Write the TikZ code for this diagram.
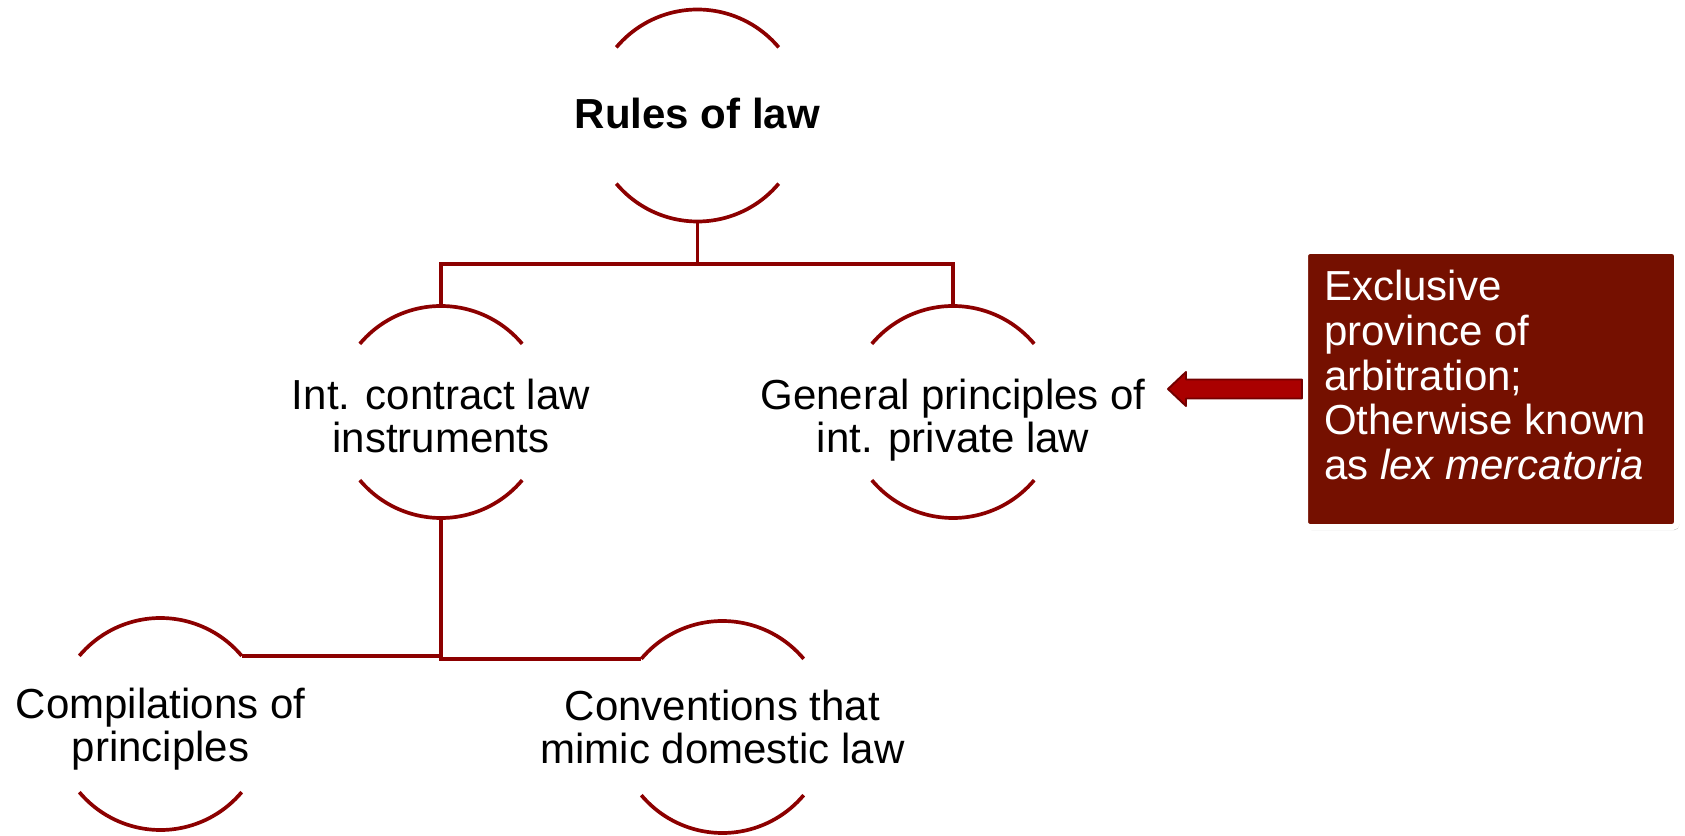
\documentclass[tikz,border=0pt]{standalone}
\usepackage{fontspec}
\setmainfont{Liberation Sans}
\usetikzlibrary{calc,shadows}

\definecolor{lawred}{RGB}{140,0,0}
\definecolor{notered}{RGB}{117,16,0}
\definecolor{arrowred}{RGB}{170,0,0}
\definecolor{arrowedge}{RGB}{115,0,0}

% text of a circle, kept out of the circle's size (first baseline at the centre, raised by #1)
\newcommand{\lbl}[2][0cm]{\makebox[0pt]{\smash{\raisebox{#1}{\begin{tabular}[t]{@{}c@{}}#2\end{tabular}}}}}

\begin{document}
\begin{tikzpicture}[
    every node/.style={font=\fontsize{23.9}{24.5}\selectfont},
    circ/.style={circle, minimum size=4.24cm, inner sep=0pt, outer sep=0pt},
    ln/.style={draw=lawred, line width=2.1pt},
    note/.style={rectangle, fill=notered, draw=white, line width=0.12cm,
        rounded corners=2.5pt, inner xsep=0.38cm, inner ysep=0pt, text=white,
        font=\fontsize{23.9}{25.4}\selectfont,
        general shadow={shadow scale=1.012, fill=black, opacity=0.12},
        drop shadow={shadow xshift=0.04cm, shadow yshift=-0.06cm, opacity=0.25, fill=black}},
    blockarrow/.style={fill=arrowred, draw=arrowedge, line width=1.1pt, line join=round}]

    \useasboundingbox (0,0) rectangle (33.7,16.7);

    % circles
    \node[circ] (rules) at (13.95,14.39) {\lbl[-0.26cm]{\textbf{Rules of law}}};
    \node[circ] (contract) at (8.82,8.46) {\lbl[0.05cm]{Int. contract law\\instruments}};
    \node[circ] (general) at (19.06,8.46) {\lbl[0.05cm]{General principles of\\int. private law}};
    \node[circ] (compil) at (3.21,2.22) {\lbl[0.11cm]{Compilations of\\principles}};
    \node[circ] (conven) at (14.45,2.16) {\lbl[0.13cm]{Conventions that\\mimic domestic law}};

    % arcs above and below each text
    \draw[ln] (rules.40) arc (40:140:2.12cm);
    \draw[ln] (rules.220) arc (220:320:2.12cm);
    \draw[ln] (contract.40) arc (40:140:2.12cm);
    \draw[ln] (contract.220) arc (220:320:2.12cm);
    \draw[ln] (general.40) arc (40:140:2.12cm);
    \draw[ln] (general.220) arc (220:320:2.12cm);
    \draw[ln] (compil.40) arc (40:140:2.12cm);
    \draw[ln] (compil.220) arc (220:320:2.12cm);
    \draw[ln] (conven.40) arc (40:140:2.12cm);
    \draw[ln] (conven.220) arc (220:320:2.12cm);

    % first level
    \coordinate (split) at ($(rules.south)!0.5!(rules.south |- contract.north)$);
    \draw[ln] (rules.south) -- (split) -| (contract.north);
    \draw[ln] (split) -| (general.north);

    % second level
    \draw[ln] (contract.south) |- (conven.140);
    \draw[ln] (contract.south |- compil.40) -- (compil.40);

    % note
    \node[note] (note) at (29.82,8.92) {\parbox[c][5.52cm][t]{6.68cm}{\vspace*{0.39cm}Exclusive\\province of\\arbitration;\\Otherwise known\\as \textit{lex mercatoria}}};

    % arrow
    \coordinate (tip) at ([xshift=-2.68cm]note.west);
    \draw[blockarrow] ([yshift=0.19cm]note.west) -- ([xshift=0.36cm, yshift=0.19cm]tip)
        -- ([xshift=0.36cm, yshift=0.34cm]tip) -- (tip) -- ([xshift=0.36cm, yshift=-0.34cm]tip)
        -- ([xshift=0.36cm, yshift=-0.19cm]tip) -- ([yshift=-0.19cm]note.west) -- cycle;
\end{tikzpicture}
\end{document}
